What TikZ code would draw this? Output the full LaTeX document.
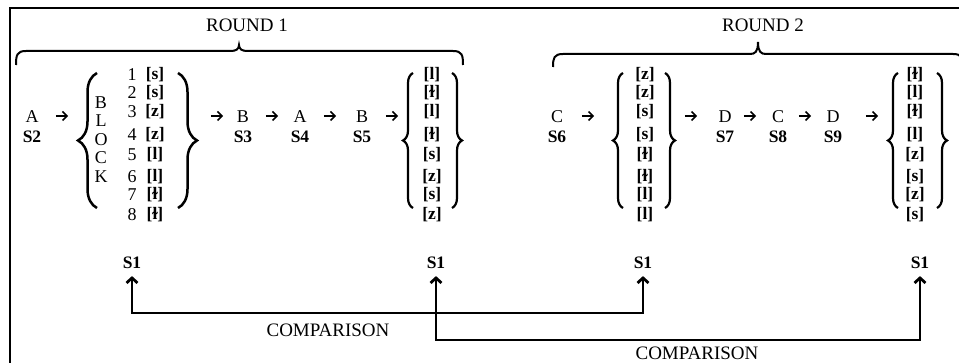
\documentclass[tikz,border=0pt]{standalone}
\usepackage{fontspec}
\setmainfont{Liberation Serif}
\usetikzlibrary{arrows.meta,decorations.pathreplacing}
\tikzset{
  txt/.style={inner sep=0pt, font=\fontsize{18}{21}\selectfont},
  lab/.style={inner sep=0pt, font=\fontsize{17.5}{21}\selectfont\bfseries},
  ttl/.style={inner sep=0pt, font=\fontsize{19}{22}\selectfont},
  brc/.style={decorate, decoration={brace, amplitude=#1}, line width=2.2pt},
  rowarr/.style={-{Straight Barb[length=4.5pt,width=9pt]}, line width=1.7pt},
  cmp/.style={{Straight Barb[length=5pt,width=11pt]}-{Straight Barb[length=5pt,width=11pt]}, line width=2.8pt, shorten <=7pt, shorten >=7pt},
  arrnode/.style={minimum width=12pt, minimum height=8pt, inner sep=0pt},
  frame/.style={line width=1.5pt},
  rbrace/.style={line width=2pt}
}
\begin{document}
\begin{tikzpicture}[x=1pt,y=-1pt]
\useasboundingbox (0,0) rectangle (959,363);
\draw[frame] (10,375) -- (10,8) -- (975,8);

% ROUND braces
\draw[rbrace] (16,65) .. controls (16,55) and (17,51) .. (26,51) -- (231,51)
  .. controls (236,51) and (239,49) .. (239,45)
  .. controls (239,49) and (242,51) .. (247,51) -- (453,51)
  .. controls (462,51) and (463,55) .. (463,65);
\node[ttl] (r1) at (247,25) {ROUND 1};
\draw[rbrace] (553,67) .. controls (553,58) and (554,54) .. (563,54) -- (750,54)
  .. controls (755,54) and (758,52) .. (758,42)
  .. controls (758,52) and (761,54) .. (766,54) -- (953,54)
  .. controls (962,54) and (963,58) .. (963,67);
\node[ttl] (r2) at (763,25) {ROUND 2};

% sequence labels
\foreach \x/\t/\s/\n in {32/A/S2/a, 243/B/S3/b, 300/A/S4/c, 362/B/S5/d, 557/C/S6/e, 725/D/S7/f, 778/C/S8/g, 833/D/S9/h} {
  \node[txt] (t\n) at (\x,117) {\t};
  \node[lab] (s\n) at (\x,137) {\s};
}

% row arrows
\foreach \x [count=\i] in {62,217,272,330,392,588,691,750,805,872} {
  \node[arrnode] (ar\i) at (\x,116) {};
  \draw[rowarr] (ar\i.west) -- (ar\i.east);
}

% BLOCK
\foreach \y/\l [count=\i] in {103/B,121/L,140/O,158/C,177/K}
  \node[txt] (bl\i) at (101,\y) {\l};
\foreach \y/\p [count=\i] in {75/s,93/s,112/z,135/z,155/l,177/l,195/ɫ,215/ɫ} {
  \node[txt] (bn\i) at (132,\y) {\i};
  \node[lab] (bp\i) at (155,\y) {[\p]};
}
\draw[brc=19, line width=2.5pt] (97,208) -- (97,73);
\draw[brc=19, line width=2.5pt] (178,73) -- (178,208);

% S5 list
\foreach \y/\p [count=\i] in {75/l,93/ɫ,112/l,135/ɫ,155/s,177/z,195/s,215/z}
  \node[lab] (pd\i) at (432,\y) {[\p]};
\draw[brc=10] (413,208) -- (413,73);
\draw[brc=10] (452,73) -- (452,208);

% S6 list
\foreach \y/\p [count=\i] in {75/z,93/z,112/s,135/s,155/ɫ,177/ɫ,195/l,215/l}
  \node[lab] (pe\i) at (645,\y) {[\p]};
\draw[brc=10] (623,208) -- (623,73);
\draw[brc=10] (665,73) -- (665,208);

% S9 list
\foreach \y/\p [count=\i] in {75/ɫ,93/l,112/ɫ,135/l,155/z,177/s,195/z,215/s}
  \node[lab] (ph\i) at (915,\y) {[\p]};
\draw[brc=10] (898,208) -- (898,73);
\draw[brc=10] (937,73) -- (937,208);

% comparisons
\node[lab] (s1a) at (132,263) {S1};
\node[lab] (s1b) at (436,263) {S1};
\node[lab] (s1c) at (643,263) {S1};
\node[lab] (s1d) at (920,263) {S1};
\coordinate (h1) at (0,313);
\coordinate (h2) at (0,340);
\draw[cmp] (s1a.south) -- (s1a.south |- h1) -- (s1c.south |- h1) -- (s1c.south);
\draw[cmp] (s1b.south) -- (s1b.south |- h2) -- (s1d.south |- h2) -- (s1d.south);
\node[ttl] (c1) at (328,330) {COMPARISON};
\node[ttl] (c2) at (697,353) {COMPARISON};
\end{tikzpicture}
\end{document}
